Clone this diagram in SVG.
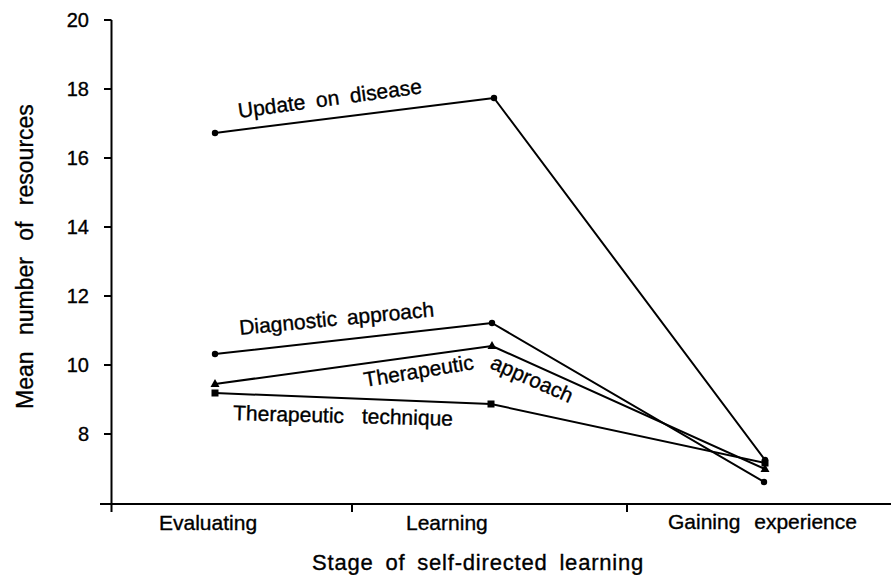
<svg xmlns="http://www.w3.org/2000/svg" width="891" height="575" viewBox="0 0 891 575">
<defs>
<style>
text{font-family:"Liberation Sans",Arial,sans-serif;fill:#000;stroke:#000;stroke-width:0.35px}
.tick{font-size:20px;text-anchor:end}
.cat{font-size:21px}
.lab{font-size:21px}
.ax{stroke:#000;stroke-width:2;fill:none}
.ser{stroke:#000;stroke-width:2;fill:none;stroke-linejoin:round}
.mk{fill:#000}
</style>
<path id="tpath" d="M365,387 L487,367 L585,410"/>
</defs>
<rect width="891" height="575" fill="#fff"/>
<g id="axes">
<path class="ax" d="M111.5,20 V512 M100,504 H891"/>
<path class="ax" d="M104,20 H111.5 M104,89 H111.5 M104,158 H111.5 M104,227 H111.5 M104,296 H111.5 M104,365 H111.5 M104,434 H111.5"/>
<path class="ax" d="M352,504 V512 M627,504 V512"/>
<text class="tick" x="89" y="27">20</text>
<text class="tick" x="89" y="96">18</text>
<text class="tick" x="89" y="165">16</text>
<text class="tick" x="89" y="234">14</text>
<text class="tick" x="89" y="303">12</text>
<text class="tick" x="89" y="372">10</text>
<text class="tick" x="89" y="441">8</text>
<text class="cat" x="159" y="530">Evaluating</text>
<text class="cat" x="406" y="530">Learning</text>
<text class="cat" x="668" y="529" style="word-spacing:8px">Gaining experience</text>
<text x="312" y="570" style="font-size:22px;letter-spacing:0.8px;word-spacing:5px">Stage of self-directed learning</text>
<text transform="translate(33,409) rotate(-90)" style="font-size:23px;word-spacing:10px">Mean number of resources</text>
</g>
<g id="connectors">
<g id="update">
<polyline class="ser" points="215,133 494,98 765,460"/>
<circle class="mk" cx="215" cy="133" r="3.2"/>
<circle class="mk" cx="494" cy="98" r="3.2"/>
<circle class="mk" cx="765" cy="460" r="3.2"/>
</g>
<g id="diagnostic">
<polyline class="ser" points="215,354 492,323 764,482"/>
<circle class="mk" cx="215" cy="354" r="3.2"/>
<circle class="mk" cx="492" cy="323" r="3.2"/>
<circle class="mk" cx="764" cy="482" r="3.2"/>
</g>
<g id="therapeutic-approach">
<polyline class="ser" points="215,384 492,346 765,469"/>
<polygon class="mk" points="215,379 219.5,387 210.5,387"/>
<polygon class="mk" points="492,341 496.5,349 487.5,349"/>
<polygon class="mk" points="765,464 769.5,472 760.5,472"/>
</g>
<g id="therapeutic-technique">
<polyline class="ser" points="215,393 491,404 765,463"/>
<rect class="mk" x="211.5" y="389.5" width="7" height="7"/>
<rect class="mk" x="487.5" y="400.5" width="7" height="7"/>
<rect class="mk" x="761.5" y="459.5" width="7" height="7"/>
</g>
</g>
<g id="labels">
<text class="lab" transform="translate(239,118) rotate(-7.7)" style="word-spacing:5px">Update on disease</text>
<text class="lab" transform="translate(240,335) rotate(-5.5)" style="word-spacing:4px">Diagnostic approach</text>
<text class="lab" style="word-spacing:9px"><textPath href="#tpath">Therapeutic approach</textPath></text>
<text class="lab" transform="translate(233,420) rotate(1.5)" style="word-spacing:12px">Therapeutic technique</text>
</g>
</svg>
